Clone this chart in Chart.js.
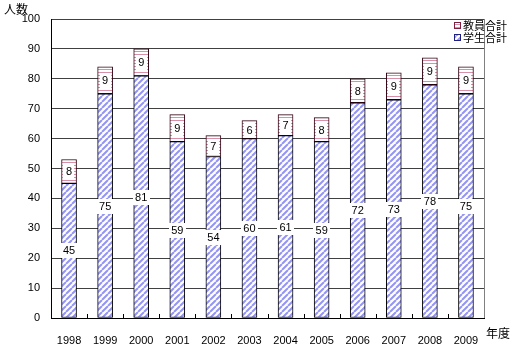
<!DOCTYPE html>
<html>
<head>
<meta charset="utf-8">
<script src="https://cdn.jsdelivr.net/npm/chart.js@4/dist/chart.umd.min.js"></script>
<style>
  html, body { margin: 0; padding: 0; background: #fff; }
  #wrap { width: 510px; height: 348px; }
</style>
</head>
<body>
<div id="wrap"><canvas id="barChart" width="510" height="348"></canvas></div>
<script>
const years = ['1998', '1999', '2000', '2001', '2002', '2003', '2004', '2005', '2006', '2007', '2008', '2009'];
const students = [45, 75, 81, 59, 54, 60, 61, 59, 72, 73, 78, 75];
const teachers = [8, 9, 9, 9, 7, 6, 7, 8, 8, 9, 9, 9];
const seriesNames = ['学生合計', '教員合計'];

const numFont = '11px "Liberation Sans", Arial, sans-serif';
const jpFont = '12px "Noto Sans CJK JP", sans-serif';
const legendFont = '11px "Noto Sans CJK JP", sans-serif';

// diagonal blue hatch for students
function makeDiagonal() {
    const c = document.createElement('canvas');
    c.width = 6; c.height = 6;
    const g = c.getContext('2d');
    g.fillStyle = '#fff';
    g.fillRect(0, 0, 6, 6);
    g.strokeStyle = '#9494f5';
    g.lineWidth = 2;
    g.beginPath();
    for (let k = -6; k <= 12; k += 6) {
        g.moveTo(k, 6);
        g.lineTo(k + 6, 0);
    }
    g.stroke();
    return g.createPattern(c, 'repeat');
}

// horizontal pink stripes for teachers
function makeHorizontal() {
    const c = document.createElement('canvas');
    c.width = 4; c.height = 3;
    const g = c.getContext('2d');
    g.fillStyle = '#fff';
    g.fillRect(0, 0, 4, 3);
    g.fillStyle = '#d890a8';
    g.fillRect(0, 0, 4, 1);
    return g.createPattern(c, 'repeat');
}

const ctx = document.getElementById('barChart').getContext('2d');
const studentFill = makeDiagonal();
const teacherFill = makeHorizontal();

const decorations = {
    id: 'decorations',
    afterDatasetsDraw(chart) {
        const g = chart.ctx;
        const area = chart.chartArea;

        g.save();
        // right frame line
        g.strokeStyle = '#808080';
        g.lineWidth = 1;
        g.beginPath();
        g.moveTo(Math.round(area.right) + 0.5, area.top);
        g.lineTo(Math.round(area.right) + 0.5, area.bottom);
        g.stroke();

        // small inward ticks between categories
        g.strokeStyle = '#000';
        const step = (area.right - area.left) / years.length;
        g.beginPath();
        for (let i = 1; i < years.length; i++) {
            const x = Math.round(area.left + step * i) + 0.5;
            g.moveTo(x, area.bottom);
            g.lineTo(x, area.bottom - 4);
        }
        g.stroke();

        // value labels on white boxes
        g.font = numFont;
        g.textAlign = 'center';
        g.textBaseline = 'middle';
        chart.data.datasets.forEach((ds, di) => {
            const meta = chart.getDatasetMeta(di);
            meta.data.forEach((bar, i) => {
                const txt = String(ds.data[i]);
                const cy = Math.round((bar.y + bar.base) / 2);
                const w = g.measureText(txt).width + 5;
                g.fillStyle = '#fff';
                g.fillRect(Math.round(bar.x - w / 2), cy - 7, Math.round(w), 15);
                g.fillStyle = '#000';
                g.fillText(txt, bar.x, cy + 1);
            });
        });

        // axis titles
        g.font = jpFont;
        g.textAlign = 'left';
        g.fillText('人数', 4, 9);
        g.fillText('年度', 486, 333);

        // legend
        g.font = legendFont;
        const items = [
            { name: seriesNames[1], fill: teacherFill, edge: '#802040', y: 26 },
            { name: seriesNames[0], fill: studentFill, edge: '#202080', y: 38 }
        ];
        items.forEach(it => {
            g.fillStyle = it.fill;
            g.fillRect(454, it.y - 4, 7, 7);
            g.strokeStyle = it.edge;
            g.strokeRect(454.5, it.y - 3.5, 6, 6);
            g.fillStyle = '#000';
            g.fillText(it.name, 463, it.y);
        });
        g.restore();
    }
};

new Chart(ctx, {
    type: 'bar',
    data: {
        labels: years,
        datasets: [
            {
                label: seriesNames[0],
                data: students,
                backgroundColor: studentFill,
                borderColor: '#000',
                borderWidth: 1,
                borderSkipped: false,
                barThickness: 15
            },
            {
                label: seriesNames[1],
                data: teachers,
                backgroundColor: teacherFill,
                borderColor: '#300010',
                borderWidth: 1,
                borderSkipped: false,
                barThickness: 15
            }
        ]
    },
    options: {
        responsive: false,
        animation: false,
        layout: { padding: { top: 19, right: 26, left: 0, bottom: 0 } },
        plugins: {
            legend: { display: false },
            tooltip: { enabled: false }
        },
        scales: {
            x: {
                stacked: true,
                grid: { display: false },
                border: { color: '#000', width: 1 },
                ticks: { color: '#000', font: { family: '"Liberation Sans", Arial, sans-serif', size: 11 }, padding: 8, maxRotation: 0 },
                afterFit(scale) { scale.height = 30; }
            },
            y: {
                stacked: true,
                min: 0,
                max: 100,
                grid: { color: '#404040', drawTicks: false },
                border: { color: '#000', width: 1 },
                ticks: { stepSize: 10, color: '#000', font: { family: '"Liberation Sans", Arial, sans-serif', size: 11 }, padding: 11 },
                afterFit(scale) { scale.width = 51; }
            }
        }
    },
    plugins: [decorations]
});
</script>
</body>
</html>
